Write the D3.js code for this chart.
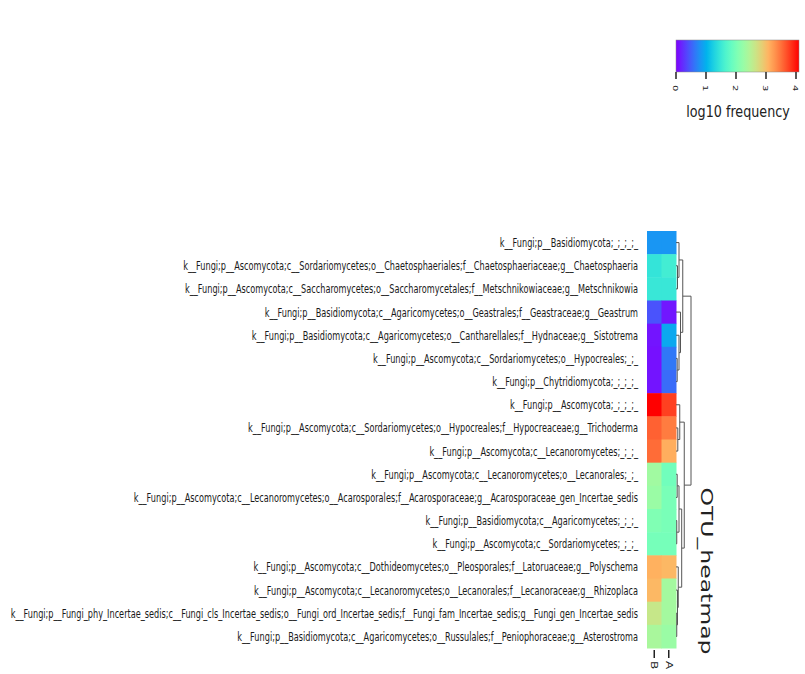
<!DOCTYPE html>
<html>
<head>
<meta charset="utf-8">
<script src="https://cdn.jsdelivr.net/npm/d3@7"></script>
<style>
body { margin: 0; background: #fff; }
</style>
</head>
<body>
<div id="vis"></div>
<script>
// row labels (top to bottom, clustered order)
var rowLabels = [
  "k__Fungi;p__Basidiomycota;_;_;_;_",
  "k__Fungi;p__Ascomycota;c__Sordariomycetes;o__Chaetosphaeriales;f__Chaetosphaeriaceae;g__Chaetosphaeria",
  "k__Fungi;p__Ascomycota;c__Saccharomycetes;o__Saccharomycetales;f__Metschnikowiaceae;g__Metschnikowia",
  "k__Fungi;p__Basidiomycota;c__Agaricomycetes;o__Geastrales;f__Geastraceae;g__Geastrum",
  "k__Fungi;p__Basidiomycota;c__Agaricomycetes;o__Cantharellales;f__Hydnaceae;g__Sistotrema",
  "k__Fungi;p__Ascomycota;c__Sordariomycetes;o__Hypocreales;_;_",
  "k__Fungi;p__Chytridiomycota;_;_;_;_",
  "k__Fungi;p__Ascomycota;_;_;_;_",
  "k__Fungi;p__Ascomycota;c__Sordariomycetes;o__Hypocreales;f__Hypocreaceae;g__Trichoderma",
  "k__Fungi;p__Ascomycota;c__Lecanoromycetes;_;_;_",
  "k__Fungi;p__Ascomycota;c__Lecanoromycetes;o__Lecanorales;_;_",
  "k__Fungi;p__Ascomycota;c__Lecanoromycetes;o__Acarosporales;f__Acarosporaceae;g__Acarosporaceae_gen_Incertae_sedis",
  "k__Fungi;p__Basidiomycota;c__Agaricomycetes;_;_;_",
  "k__Fungi;p__Ascomycota;c__Sordariomycetes;_;_;_",
  "k__Fungi;p__Ascomycota;c__Dothideomycetes;o__Pleosporales;f__Latoruaceae;g__Polyschema",
  "k__Fungi;p__Ascomycota;c__Lecanoromycetes;o__Lecanorales;f__Lecanoraceae;g__Rhizoplaca",
  "k__Fungi;p__Fungi_phy_Incertae_sedis;c__Fungi_cls_Incertae_sedis;o__Fungi_ord_Incertae_sedis;f__Fungi_fam_Incertae_sedis;g__Fungi_gen_Incertae_sedis",
  "k__Fungi;p__Basidiomycota;c__Agaricomycetes;o__Russulales;f__Peniophoraceae;g__Asterostroma"
];

// sample columns
var samples = ["B", "A"];

// log10 frequency per sample
var valuesB = [0.82, 1.44, 1.48, 0.43, 0.10, 0.08, 0.10, 4.10, 3.59, 3.53, 2.32, 2.26, 2.05, 1.97, 3.10, 3.05, 2.62, 2.38];
var valuesA = [0.82, 1.56, 1.48, 0.12, 0.94, 0.64, 0.57, 3.77, 3.44, 3.12, 1.93, 2.00, 2.00, 1.97, 3.05, 2.34, 2.34, 2.26];

// colorbar ticks
var cbarTicks = [0, 1, 2, 3, 4];

// row dendrogram: [height, left, right], leaves are row indices
var rowTree = [1.0,
  [0.45,
    [0.2, 0, [0.1, 1, 2]],
    [0.3, 3, [0.2, 4, [0.08, 5, 6]]]],
  [0.55,
    [0.25, 7, [0.12, 8, 9]],
    [0.38,
      [0.2, [0.08, 10, 11], [0.05, 12, 13]],
      [0.15, 14, [0.1, 15, [0.05, 16, 17]]]]]
];

var width = 805, height = 674;
var vmax = 4.1;

var svg = d3.select("#vis").append("svg")
  .attr("width", width)
  .attr("height", height);

// matplotlib "rainbow"
function rainbow(t) {
  t = Math.max(0, Math.min(1, t));
  var r = Math.min(1, Math.abs(2 * t - 0.5));
  var g = Math.sin(Math.PI * t);
  var b = Math.cos(Math.PI * t / 2);
  return d3.rgb(r * 255, g * 255, b * 255).formatHex();
}
function color(v) { return rainbow(v / vmax); }

var xscale = d3.scaleBand().domain(samples).range([647, 676]);
var yscale = d3.scaleBand().domain(d3.range(rowLabels.length)).range([231, 648]);

// cells
var cells = [];
rowLabels.forEach(function(d, i) {
  cells.push({ row: i, col: "B", v: valuesB[i] });
  cells.push({ row: i, col: "A", v: valuesA[i] });
});

svg.append("g").selectAll("rect")
  .data(cells)
  .enter().append("rect")
  .attr("x", function(d) { return xscale(d.col); })
  .attr("y", function(d) { return yscale(d.row); })
  .attr("width", xscale.bandwidth() + 0.5)
  .attr("height", yscale.bandwidth() + 0.5)
  .attr("fill", function(d) { return color(d.v); });

// row labels, condensed
var labels = svg.append("g").selectAll("text")
  .data(rowLabels)
  .enter().append("text")
  .attr("text-anchor", "end")
  .style("font-family", "'DejaVu Sans', sans-serif")
  .style("font-size", "13px")
  .style("fill", "#1a1a1a")
  .text(function(d) { return d; });

var maxLen = 0;
labels.each(function() { maxLen = Math.max(maxLen, this.getComputedTextLength()); });
var sx = 628 / maxLen;
labels.attr("transform", function(d, i) {
  return "translate(638," + (yscale(i) + yscale.bandwidth() / 2 + 4.5) + ") scale(" + sx + ",1)";
});

// column ticks and labels
svg.append("g").selectAll("line")
  .data(samples)
  .enter().append("line")
  .attr("x1", function(d) { return xscale(d) + xscale.bandwidth() / 2; })
  .attr("x2", function(d) { return xscale(d) + xscale.bandwidth() / 2; })
  .attr("y1", 650).attr("y2", 658)
  .attr("stroke", "#222").attr("stroke-width", 1.5);

svg.append("g").selectAll("text")
  .data(samples)
  .enter().append("text")
  .attr("transform", function(d) {
    return "translate(" + (xscale(d) + xscale.bandwidth() / 2) + ",661) scale(0.75,1) rotate(90)";
  })
  .attr("dy", "0.35em")
  .style("font-family", "'DejaVu Sans', sans-serif")
  .style("font-size", "12px")
  .style("fill", "#222")
  .text(function(d) { return d; });

// dendrogram
var dx = d3.scaleLinear().domain([0, 1]).range([676, 691]);
var links = [];
function layout(node) {
  if (typeof node === "number") {
    return { y: yscale(node) + yscale.bandwidth() / 2, h: 0 };
  }
  var l = layout(node[1]), r = layout(node[2]);
  links.push({ h: node[0], a: l, b: r });
  return { y: (l.y + r.y) / 2, h: node[0] };
}
layout(rowTree);

svg.append("g").selectAll("path")
  .data(links)
  .enter().append("path")
  .attr("d", function(d) {
    return "M" + dx(d.a.h) + "," + d.a.y + "H" + dx(d.h) + "V" + d.b.y + "H" + dx(d.b.h);
  })
  .attr("fill", "none")
  .attr("stroke", "#555")
  .attr("stroke-width", 1);

// title
svg.append("text")
  .attr("transform", "translate(706,571) scale(0.65,1) rotate(90)")
  .attr("text-anchor", "middle")
  .attr("dy", "0.35em")
  .attr("textLength", 167)
  .attr("lengthAdjust", "spacingAndGlyphs")
  .style("font-family", "'DejaVu Sans', sans-serif")
  .style("font-size", "24px")
  .style("fill", "#222")
  .text("OTU_heatmap");

// colorbar
var cscale = d3.scaleLinear().domain([0, vmax]).range([676, 799]);
var grad = svg.append("defs").append("linearGradient").attr("id", "cbar")
  .attr("x1", "0%").attr("x2", "100%").attr("y1", "0%").attr("y2", "0%");
grad.selectAll("stop")
  .data(d3.range(0, 1.0001, 0.05))
  .enter().append("stop")
  .attr("offset", function(d) { return (d * 100) + "%"; })
  .attr("stop-color", function(d) { return rainbow(d); });

svg.append("rect")
  .attr("x", cscale(0)).attr("y", 40)
  .attr("width", cscale(vmax) - cscale(0)).attr("height", 32)
  .attr("fill", "url(#cbar)")
  .attr("stroke", "#888").attr("stroke-width", 0.5);

svg.append("g").selectAll("line")
  .data(cbarTicks)
  .enter().append("line")
  .attr("x1", function(d) { return cscale(d); })
  .attr("x2", function(d) { return cscale(d); })
  .attr("y1", 72).attr("y2", 79)
  .attr("stroke", "#222").attr("stroke-width", 1.5);

svg.append("g").selectAll("text")
  .data(cbarTicks)
  .enter().append("text")
  .attr("transform", function(d) { return "translate(" + cscale(d) + ",85) scale(0.75,1) rotate(90)"; })
  .attr("dy", "0.35em")
  .style("font-family", "'DejaVu Sans', sans-serif")
  .style("font-size", "10px")
  .style("fill", "#222")
  .text(function(d) { return d; });

svg.append("text")
  .attr("transform", "translate(738,117) scale(0.85,1)")
  .attr("text-anchor", "middle")
  .style("font-family", "'DejaVu Sans', sans-serif")
  .style("font-size", "15px")
  .style("fill", "#222")
  .text("log10 frequency");
</script>
</body>
</html>
